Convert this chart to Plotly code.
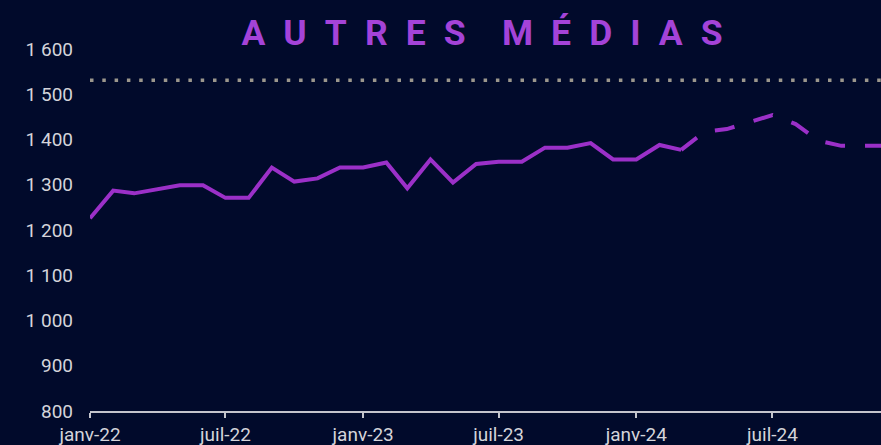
import plotly.graph_objects as go

# Monthly audience, January 2022 onward
months = [
    "2022-01-01", "2022-02-01", "2022-03-01", "2022-04-01", "2022-05-01", "2022-06-01",
    "2022-07-01", "2022-08-01", "2022-09-01", "2022-10-01", "2022-11-01", "2022-12-01",
    "2023-01-01", "2023-02-01", "2023-03-01", "2023-04-01", "2023-05-01", "2023-06-01",
    "2023-07-01", "2023-08-01", "2023-09-01", "2023-10-01", "2023-11-01", "2023-12-01",
    "2024-01-01", "2024-02-01", "2024-03-01", "2024-04-01", "2024-05-01", "2024-06-01",
    "2024-07-01", "2024-08-01", "2024-09-01", "2024-10-01", "2024-11-01", "2024-12-01",
]
observed = [
    1226, 1287, 1281, 1290, 1299, 1299, 1271, 1271, 1338, 1307, 1314, 1338,
    1338, 1349, 1292, 1356, 1305, 1346, 1351, 1351, 1382, 1382, 1392, 1356,
    1356, 1388, 1377,
]
projected = [1377, 1417, 1423, 1439, 1454, 1434, 1397, 1386, 1386, 1386]
reference_level = 1531

tick_dates = ["2022-01-01", "2022-07-01", "2023-01-01", "2023-07-01", "2024-01-01", "2024-07-01"]
tick_labels = ["janv-22", "juil-22", "janv-23", "juil-23", "janv-24", "juil-24"]
y_ticks = [800, 900, 1000, 1100, 1200, 1300, 1400, 1500, 1600]

title_words = ["AUTRES", "MÉDIAS"]

BG = "#010a2b"
PURPLE = "#9b30c8"
TITLE_PURPLE = "#a443d8"
TEXT = "#d4d4da"

n_obs = len(observed)
proj_start = n_obs - 1

fig = go.Figure()
fig.add_trace(go.Scatter(
    x=months[:n_obs], y=observed, mode="lines",
    line=dict(color=PURPLE, width=4), hoverinfo="skip", showlegend=False,
))
fig.add_trace(go.Scatter(
    x=months[proj_start:proj_start + len(projected)], y=projected, mode="lines",
    line=dict(color=PURPLE, width=4, dash="longdash"), hoverinfo="skip", showlegend=False,
))

fig.add_shape(
    type="line", xref="paper", yref="y", x0=0, x1=1,
    y0=reference_level, y1=reference_level,
    line=dict(color="#9c978d", width=3.5, dash="3.5px,8.8px"),
)

spaced_title = "\u2002\u2002".join("\u2002".join(w) for w in title_words)

fig.update_layout(
    width=881, height=445,
    paper_bgcolor=BG, plot_bgcolor=BG,
    margin=dict(l=90, r=0, t=49, b=34),
    separators=", ",
    title=dict(
        text=spaced_title, xref="paper", x=0.4956, xanchor="center",
        yref="container", y=1 - 33 / 445, yanchor="middle",
        font=dict(family="Roboto", size=35.5, color=TITLE_PURPLE, weight="bold"),
    ),
    xaxis=dict(
        type="date", range=["2022-01-01", "2024-11-23"],
        tickvals=tick_dates, ticktext=tick_labels,
        showgrid=False, zeroline=False,
        showline=True, linecolor="#c4c4cc", linewidth=2,
        ticks="outside", ticklen=5, tickwidth=2, tickcolor="#c4c4cc",
        tickfont=dict(family="Roboto", size=19, color=TEXT),
    ),
    yaxis=dict(
        range=[800, 1600], tickvals=y_ticks, tickformat=",d",
        showgrid=False, zeroline=False, showline=False,
        ticks="", ticklabelstandoff=16,
        tickfont=dict(family="Roboto", size=19, color=TEXT),
    ),
)

fig.write_html("out.html")
